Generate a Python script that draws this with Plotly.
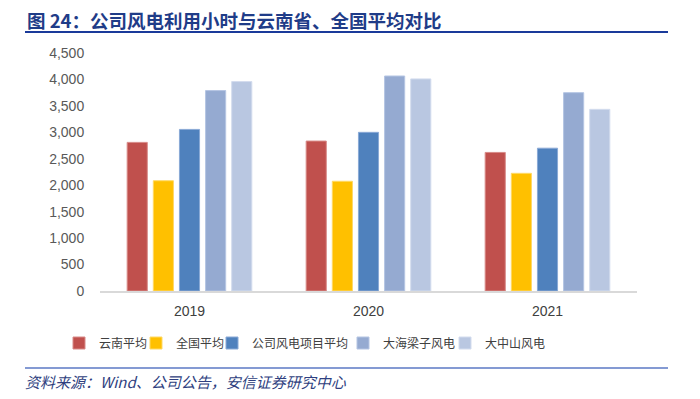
import plotly.graph_objects as go

years = ["2019", "2020", "2021"]
series_names = ["云南平均", "全国平均", "公司风电项目平均", "大海梁子风电", "大中山风电"]
yunnan_avg = [2810, 2835, 2620]
national_avg = [2085, 2075, 2225]
company_avg = [3055, 3000, 2700]
dahailiangzi = [3790, 4065, 3750]
dazhongshan = [3960, 4010, 3435]
y_ticks = [0, 500, 1000, 1500, 2000, 2500, 3000, 3500, 4000, 4500]

series_values = [yunnan_avg, national_avg, company_avg, dahailiangzi, dazhongshan]
colors = ["#C0504D", "#FFC000", "#4F81BD", "#95AAD1", "#B9C7E1"]
edge_colors = ["#D88A88", "#FFD966", "#8AA9D6", "#B5C5E3", "#D3DCEE"]

# page body has an 8px default margin; lay out in reference pixels shifted by it
OFF = 8
PL, PT, PW, PH = 100, 53, 537, 238  # plot box in reference pixels


def px(x):
    return (x - PL) / PW


def py(y):
    return (PT + PH - y) / PH


legend_ids = ["legend", "legend2", "legend3", "legend4", "legend5"]
legend_text_x = [92, 169, 245, 376, 478]  # where each legend label starts (ref px)

fig = go.Figure()
for name, vals, c, ec, lid in zip(series_names, series_values, colors, edge_colors, legend_ids):
    fig.add_trace(go.Bar(
        x=years, y=vals, name=name, legend=lid,
        marker=dict(color=c, line=dict(color=ec, width=1)),
    ))

layout_legends = {}
for lid, tx in zip(legend_ids, legend_text_x):
    layout_legends[lid] = dict(
        orientation="h", xref="paper", yref="paper",
        x=px(tx + 7 - 40), xanchor="left", y=py(343), yanchor="middle",
        font=dict(family="Noto Sans CJK SC", size=12, color="#404040"),
        itemwidth=30, bgcolor="rgba(0,0,0,0)", borderwidth=0,
    )

fig.update_layout(
    width=700, height=399,
    margin=dict(l=PL - OFF, r=700 - (PL - OFF) - PW, t=PT - OFF,
                b=399 - (PT - OFF) - PH, autoexpand=False),
    paper_bgcolor="white", plot_bgcolor="white",
    barmode="group", bargap=0.27, bargroupgap=0.23,
    font=dict(family="Liberation Sans, Noto Sans CJK SC", size=12, color="#595959"),
    showlegend=True,
    xaxis=dict(
        showline=True, linecolor="#D9D9D9", linewidth=1.5,
        ticks="outside", ticklen=6, tickcolor="rgba(0,0,0,0)",
        tickfont=dict(size=14, color="#404040"),
        showgrid=False, automargin=False,
    ),
    yaxis=dict(
        range=[0, 4500], tickvals=y_ticks, tickformat=",d",
        showgrid=False, showline=False, zeroline=False,
        tickfont=dict(size=14, color="#595959"),
        ticks="outside", ticklen=12, tickcolor="rgba(0,0,0,0)", automargin=False,
    ),
    **layout_legends,
)

# Title and decorative lines
fig.add_annotation(
    text="<b>图 24：公司风电利用小时与云南省、全国平均对比</b>",
    xref="paper", yref="paper", x=px(25), y=py(20), yanchor="middle", xanchor="left",
    showarrow=False,
    font=dict(family="Noto Sans CJK SC", size=18.5, color="#1F3C88"),
)
fig.add_shape(type="line", xref="paper", yref="paper",
              x0=px(25), x1=px(668), y0=py(32), y1=py(32),
              line=dict(color="#1A3A9A", width=2))
fig.add_shape(type="line", xref="paper", yref="paper",
              x0=px(25), x1=px(668), y0=py(368), y1=py(368),
              line=dict(color="#5B78C4", width=1.5))
fig.add_annotation(
    text="<i>资料来源：Wind、公司公告，安信证券研究中心</i>",
    xref="paper", yref="paper", x=px(23), y=py(381), xanchor="left", yanchor="middle",
    showarrow=False,
    font=dict(family="Noto Sans CJK SC", size=15, color="#2F3F80"),
)

fig.write_html("out.html")
